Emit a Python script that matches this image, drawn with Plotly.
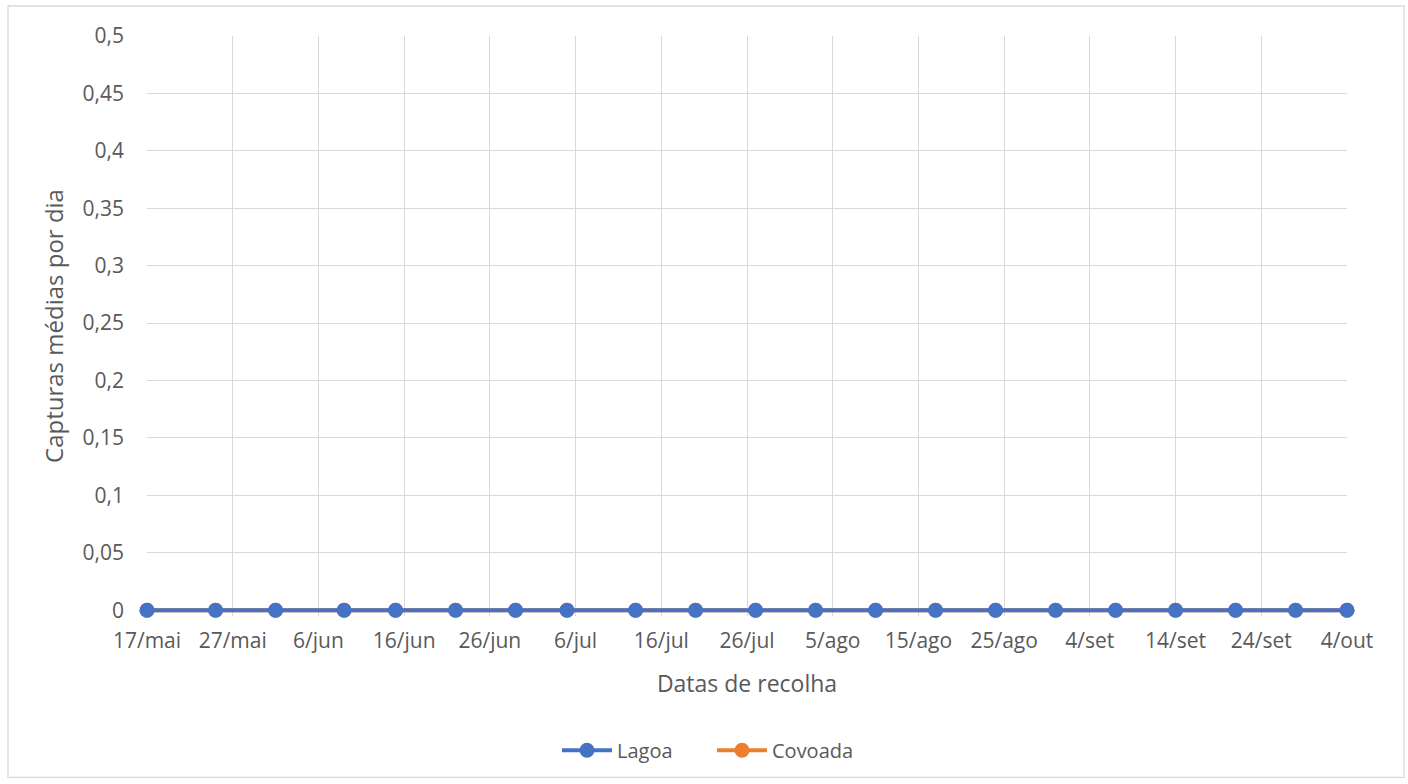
import plotly.graph_objects as go

dates = ["2021-05-17", "2021-05-25", "2021-06-01", "2021-06-09", "2021-06-15", "2021-06-22",
         "2021-06-29", "2021-07-05", "2021-07-13", "2021-07-20", "2021-07-27", "2021-08-03",
         "2021-08-10", "2021-08-17", "2021-08-24", "2021-08-31", "2021-09-07", "2021-09-14",
         "2021-09-21", "2021-09-28", "2021-10-04"]
lagoa = [0] * 21
covoada = [0] * 21

tick_vals = ["2021-05-17", "2021-05-27", "2021-06-06", "2021-06-16", "2021-06-26", "2021-07-06",
             "2021-07-16", "2021-07-26", "2021-08-05", "2021-08-15", "2021-08-25", "2021-09-04",
             "2021-09-14", "2021-09-24", "2021-10-04"]
tick_text = ["17/mai", "27/mai", "6/jun", "16/jun", "26/jun", "6/jul", "16/jul", "26/jul",
             "5/ago", "15/ago", "25/ago", "4/set", "14/set", "24/set", "4/out"]

FONT = "Open Sans"
GRAY = "#595959"
GRID = "#d9d9d9"

fig = go.Figure()
fig.add_trace(go.Scatter(x=dates, y=covoada, name="Covoada", mode="lines+markers",
                         line=dict(color="#ED7D31", width=4), marker=dict(size=15, color="#ED7D31"),
                         legendrank=2, cliponaxis=False))
fig.add_trace(go.Scatter(x=dates, y=lagoa, name="Lagoa", mode="lines+markers",
                         line=dict(color="#4472C4", width=4), marker=dict(size=15, color="#4472C4"),
                         legendrank=1, cliponaxis=False))

W, H = 1408, 784
YMIN, YMAX = -0.005, 0.5
L, R, T, Y0 = 147, 1347, 36, 610
pxu = (Y0 - T) / YMAX
B = Y0 - YMIN * pxu
pw, ph = R - L, B - T

def px(x):
    return (x - L) / pw

def py(y):
    return (B - y) / ph

fig.update_layout(
    width=W, height=H,
    margin=dict(l=L, r=W - R, t=T, b=H - B, pad=0),
    paper_bgcolor="white", plot_bgcolor="white",
    separators=", ",
    font=dict(family=FONT, size=21, color=GRAY),
    showlegend=True,
    legend=dict(orientation="h", x=px(712), xanchor="center", y=py(750), yanchor="middle",
                font=dict(size=20, color=GRAY), traceorder="normal", itemwidth=50,
                entrywidth=90, entrywidthmode="pixels"),
    xaxis=dict(
        type="date", range=["2021-05-17", "2021-10-04"],
        tickmode="array", tickvals=tick_vals, ticktext=tick_text,
        showgrid=True, gridcolor=GRID, gridwidth=1.3,
        showline=False, zeroline=False, ticks="", ticklabelstandoff=10,
        title=dict(text="Datas de recolha", font=dict(size=23, color=GRAY), standoff=22),
        tickfont=dict(size=21, color=GRAY),
    ),
    yaxis=dict(
        range=[YMIN, YMAX], tickmode="linear", dtick=0.05, tick0=0,
        showgrid=True, gridcolor=GRID, gridwidth=1.3,
        showline=False, zeroline=False, ticks="", ticklabelstandoff=22,
        title=dict(text="Capturas médias por dia", font=dict(size=24, color=GRAY), standoff=12),
        tickfont=dict(size=21, color=GRAY),
    ),
    shapes=[dict(type="rect", xref="paper", yref="paper",
                 x0=px(8), x1=px(1404), y0=py(777), y1=py(6),
                 line=dict(color=GRID, width=1.3), fillcolor="rgba(0,0,0,0)", layer="below")],
)

fig.write_html("out.html", config={"displayModeBar": False},
               post_script="document.body.style.margin='0px';")
